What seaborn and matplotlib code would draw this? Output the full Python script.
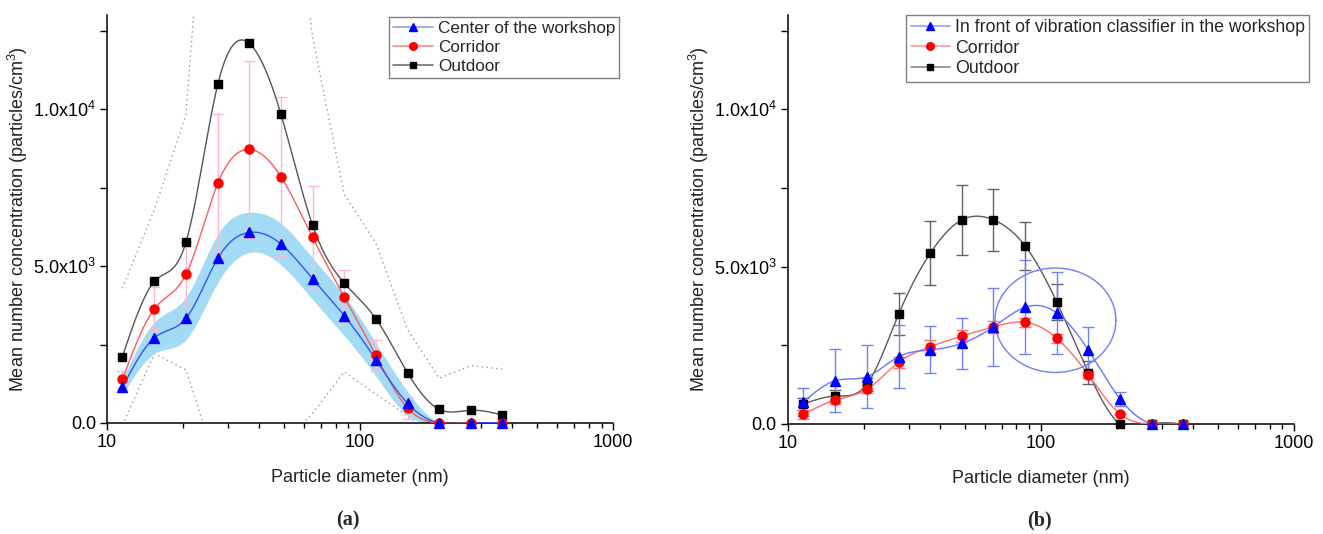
import numpy as np
import matplotlib
matplotlib.use('Agg')
import matplotlib.pyplot as plt
from matplotlib.lines import Line2D
from matplotlib.ticker import FixedLocator, FixedFormatter, LogLocator, NullFormatter
import seaborn as sns

sns.set_theme(style='ticks')
plt.rcParams['font.family'] = ['Liberation Sans', 'DejaVu Sans']
plt.rcParams['mathtext.fontset'] = 'custom'
plt.rcParams['mathtext.rm'] = 'Liberation Sans'

# particle size channels (nm)
diameter = [11.5, 15.4, 20.5, 27.4, 36.5, 48.7, 64.9, 86.6, 115.5, 154.0, 205.4, 273.8, 365.2]

# panel (a)
a_center = [1137, 2717, 3334, 5245, 6073, 5701, 4597, 3418, 2020, 627, 0, 0, 0]
a_center_band = [240, 500, 680, 770, 640, 660, 660, 640, 530, 380, 0, 0, 0]
a_corridor = [1391, 3641, 4735, 7634, 8717, 7846, 5914, 4024, 2155, 478, 0, 0, 0]
a_corridor_err = [270, 690, 1035, 2200, 2820, 2540, 1640, 850, 490, 360, 0, 0, 0]
a_outdoor = [2112, 4513, 5755, 10788, 12094, 9832, 6306, 4459, 3322, 1603, 436, 404, 255]
a_outdoor_sd = [2178, 2300, 4065, 12200, 14000, 10558, 6000, 2830, 2405, 1370, 988, 1421, 1465]

# panel (b)
b_classifier = [700, 1378, 1505, 2141, 2353, 2565, 3085, 3711, 3530, 2343, 795, 0, 0]
b_classifier_err = [435, 1000, 990, 1000, 747, 805, 1250, 1500, 1313, 753, 212, 0, 0]
b_corridor = [308, 763, 1103, 1962, 2459, 2798, 3085, 3234, 2725, 1558, 318, 0, 0]
b_corridor_err = [150, 130, 130, 175, 212, 195, 190, 143, 150, 100, 0, 0, 0]
b_outdoor = [636, 890, 1262, 3498, 5426, 6487, 6487, 5660, 3870, 1631, 0, 0, 0]
b_outdoor_err = [180, 190, 200, 680, 1018, 1113, 976, 754, 570, 370, 0, 0, 0]

legend_a = ['Center of the workshop', 'Corridor', 'Outdoor']
legend_b = ['In front of vibration classifier in the workshop', 'Corridor', 'Outdoor']


def smooth(x, y, num=400):
    """natural cubic spline in log-x, like Origin's spline connector"""
    lx = np.log10(np.asarray(x, float))
    y = np.asarray(y, float)
    n = len(lx)
    h = np.diff(lx)
    A = np.zeros((n, n))
    r = np.zeros(n)
    A[0, 0] = A[-1, -1] = 1
    for i in range(1, n - 1):
        A[i, i - 1] = h[i - 1]
        A[i, i] = 2 * (h[i - 1] + h[i])
        A[i, i + 1] = h[i]
        r[i] = 3 * ((y[i + 1] - y[i]) / h[i] - (y[i] - y[i - 1]) / h[i - 1])
    c = np.linalg.solve(A, r)
    b = (y[1:] - y[:-1]) / h - h * (2 * c[:-1] + c[1:]) / 3
    d = (c[1:] - c[:-1]) / (3 * h)
    xs = np.linspace(lx[0], lx[-1], num)
    idx = np.clip(np.searchsorted(lx, xs) - 1, 0, n - 2)
    dx = xs - lx[idx]
    ys = y[idx] + b[idx] * dx + c[idx] * dx ** 2 + d[idx] * dx ** 3
    return 10 ** xs, ys


def curve(ax, y, line_color, marker, mcolor, ms, lw=1.0):
    xs, ys = smooth(diameter, y)
    sns.lineplot(x=xs, y=ys, ax=ax, color=line_color, lw=lw, estimator=None, sort=False, zorder=3)
    ax.plot(diameter, y, ls='none', marker=marker, color=mcolor, ms=ms, mec=mcolor, zorder=6, clip_on=False)


def style_axes(ax):
    ax.set_xscale('log')
    ax.set_xlim(10, 1000)
    ax.set_ylim(0, 13000)
    ax.xaxis.set_major_locator(FixedLocator([10, 100, 1000]))
    ax.xaxis.set_major_formatter(FixedFormatter(['10', '100', '1000']))
    ax.xaxis.set_minor_locator(LogLocator(base=10, subs=np.arange(2, 10)))
    ax.xaxis.set_minor_formatter(NullFormatter())
    ax.yaxis.set_major_locator(FixedLocator([0, 5000, 10000]))
    ax.yaxis.set_major_formatter(FixedFormatter(['0.0', r'5.0x10$^{\mathregular{3}}$', r'1.0x10$^{\mathregular{4}}$']))
    ax.yaxis.set_minor_locator(FixedLocator([2500, 7500, 12500]))
    ax.tick_params(which='major', direction='out', length=5, width=1, labelsize=13, colors='black', pad=3)
    ax.tick_params(which='minor', direction='out', length=3.5, width=1, colors='black')
    ax.tick_params(axis='y', which='minor', length=5)
    for s in ['top', 'right']:
        ax.spines[s].set_visible(False)
    for s in ['left', 'bottom']:
        ax.spines[s].set_linewidth(1.1)
        ax.spines[s].set_color('black')
    ax.set_xlabel('Particle diameter (nm)', fontsize=13, labelpad=13, color='#222222')
    ax.set_ylabel(r'Mean number concentration (particles/cm$^{\mathregular{3}}$)', fontsize=13, labelpad=2, color='#222222')


fig = plt.figure(figsize=(13.23, 5.34), dpi=100)
ax1 = fig.add_axes([0.0809, 0.2079, 0.3825, 0.764])
ax2 = fig.add_axes([0.5956, 0.206, 0.3825, 0.766])

# ---- (a)
d = np.array(diameter)
out = np.array(a_outdoor)
sd = np.array(a_outdoor_sd)
ax1.plot(d, out + sd, ls=(0, (1, 2.5)), color='#999999', lw=1.0, zorder=1)
ax1.plot(d, out - sd, ls=(0, (1, 2.5)), color='#999999', lw=1.0, zorder=1)

xs, yc = smooth(diameter, a_center)
_, yb = smooth(diameter, a_center_band)
yb = np.clip(yb, 0, None)
ax1.fill_between(xs, yc - yb, yc + yb, color='#a3dbf6', lw=0, zorder=2)

ax1.errorbar(diameter, a_corridor, yerr=a_corridor_err, fmt='none', ecolor='#ffb8cc',
             elinewidth=1.0, capsize=4, capthick=1.0, zorder=2)

curve(ax1, a_outdoor, '#555555', 's', 'black', 5.5)
curve(ax1, a_corridor, '#ff5a5a', 'o', '#ff0000', 6.5)
curve(ax1, a_center, '#3355ee', '^', '#0000ff', 7)

h1 = [Line2D([], [], color='#8fa0ff', marker='^', mfc='#0000ff', mec='#0000ff', ms=5.5, lw=1.2),
      Line2D([], [], color='#ff8a8a', marker='o', mfc='#ff0000', mec='#ff0000', ms=5.5, lw=1.2),
      Line2D([], [], color='#6e6e6e', marker='s', mfc='black', mec='black', ms=4.5, lw=1.2)]
leg = ax1.legend(h1, legend_a, loc='upper right', bbox_to_anchor=(1.016, 1.0), fontsize=12.3,
                 frameon=True, fancybox=False, framealpha=1, edgecolor='#808080',
                 handlelength=2.3, handletextpad=0.3, labelspacing=0.22, borderpad=0.25,
                 borderaxespad=0.1)
leg.get_frame().set_linewidth(1.0)

# ---- (b)
ax2.errorbar(diameter, b_outdoor, yerr=b_outdoor_err, fmt='none', ecolor='#4a4a4a',
             elinewidth=1.0, capsize=4, capthick=1.0, zorder=2, alpha=0.85)
ax2.errorbar(diameter, b_classifier, yerr=b_classifier_err, fmt='none', ecolor='#7282ff',
             elinewidth=1.0, capsize=4, capthick=1.0, zorder=2)
ax2.errorbar(diameter, b_corridor, yerr=b_corridor_err, fmt='none', ecolor='#ff7070',
             elinewidth=1.0, capsize=4, capthick=1.0, zorder=2)

curve(ax2, b_outdoor, '#5a5a5a', 's', 'black', 5.5)
curve(ax2, b_corridor, '#ff6b6b', 'o', '#ff0000', 6.5)
curve(ax2, b_classifier, '#6677ff', '^', '#0000ff', 7)

# highlight ellipse around the classifier peak
t = np.linspace(0, 2 * np.pi, 300)
ax2.plot(10 ** (2.057 + 0.239 * np.cos(t)), 3298 + 1660 * np.sin(t), color='#6f7cff', lw=1.0, zorder=4)

h2 = [Line2D([], [], color='#8fa0ff', marker='^', mfc='#0000ff', mec='#0000ff', ms=5.5, lw=1.2),
      Line2D([], [], color='#ff9a9a', marker='o', mfc='#ff0000', mec='#ff0000', ms=5.5, lw=1.2),
      Line2D([], [], color='#8a8a8a', marker='s', mfc='black', mec='black', ms=4.5, lw=1.2)]
leg = ax2.legend(h2, legend_b, loc='upper right', bbox_to_anchor=(1.034, 1.005), fontsize=12.8,
                 frameon=True, fancybox=False, framealpha=1, edgecolor='#808080',
                 handlelength=2.2, handletextpad=0.3, labelspacing=0.2, borderpad=0.25,
                 borderaxespad=0.1)
leg.get_frame().set_linewidth(1.0)

for ax in (ax1, ax2):
    style_axes(ax)

fig.text(0.2627, 0.026, '(a)', family=['Liberation Serif'], fontweight='bold', fontsize=14.5,
         ha='center', va='center')
fig.text(0.786, 0.026, '(b)', family=['Liberation Serif'], fontweight='bold', fontsize=14.5,
         ha='center', va='center')

fig.savefig('out.png', dpi=100, facecolor='white')
